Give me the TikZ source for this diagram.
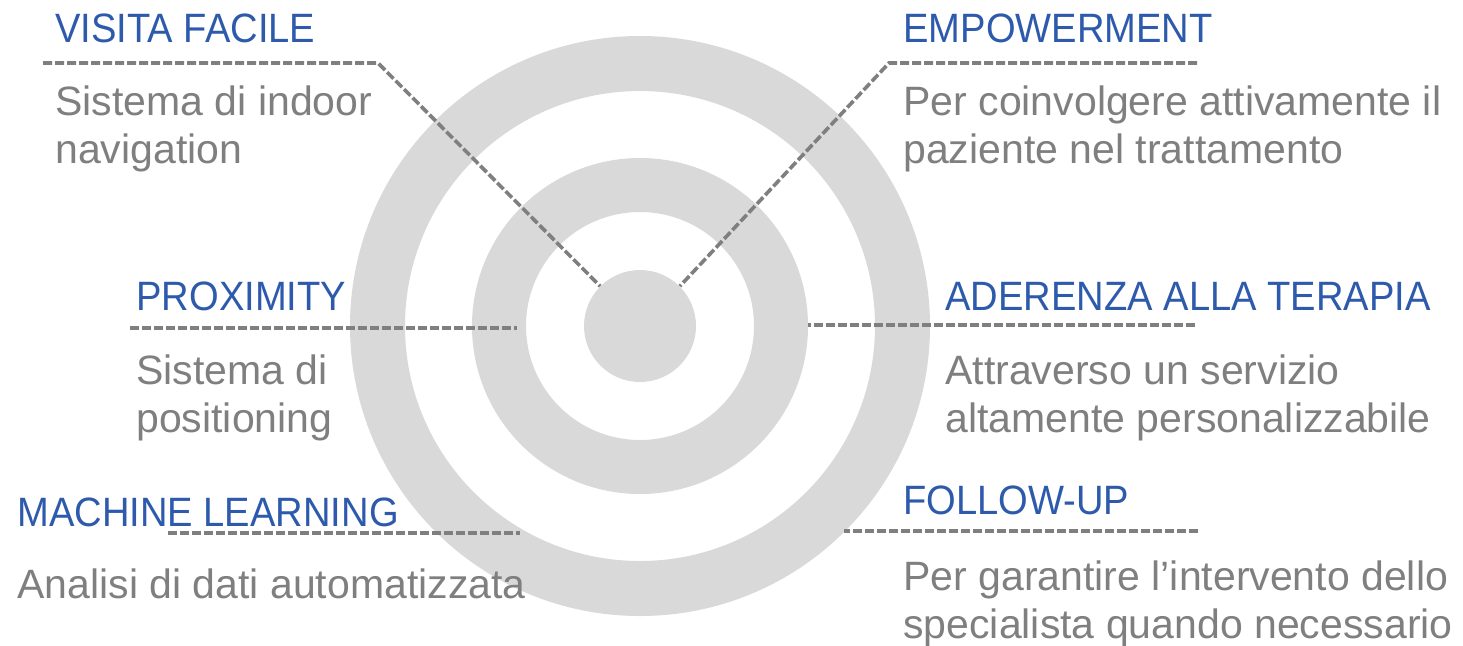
\documentclass[tikz,border=0pt]{standalone}
\usepackage{fontspec}
\setmainfont{Liberation Sans}
\newfontfamily\headfont[FakeStretch=0.93]{Liberation Sans}

\definecolor{ringgray}{HTML}{D9D9D9}
\definecolor{titleblue}{HTML}{2E5AAC}
\definecolor{textgray}{HTML}{7F7F7F}

\tikzset{
    title/.style={anchor=base west, inner sep=0pt, text=titleblue, font=\headfont\fontsize{20.5}{24}\selectfont},
    body/.style={anchor=base west, inner sep=0pt, text=textgray, align=left, font=\fontsize{20.5}{24}\selectfont},
    leader/.style={textgray, line width=1.8pt, dash pattern=on 4.5pt off 1.5pt},
}

\begin{document}
\begin{tikzpicture}[x=0.5pt, y=-0.5pt]
    \useasboundingbox (0,0) rectangle (1463,645);

    % target
    \fill[ringgray, even odd rule] (640,326) circle (290) circle (235);
    \fill[ringgray, even odd rule] (640,326) circle (168) circle (114);
    \node[circle, fill=ringgray, minimum size=56pt, inner sep=0pt] (core) at (640,326) {};

    % labels (body nodes sit on the baseline of their last line)
    \node[title] (visita) at (55,42) {VISITA FACILE};
    \node[body] (visitatxt) at (55,163) {Sistema di indoor\\navigation};
    \node[title] (empow) at (903,42) {EMPOWERMENT};
    \node[body] (empowtxt) at (903,163) {Per coinvolgere attivamente il\\paziente nel trattamento};
    \node[title] (prox) at (136,310) {PROXIMITY};
    \node[body] (proxtxt) at (136,432) {Sistema di\\positioning};
    \node[title] (aderenza) at (945,310) {ADERENZA ALLA TERAPIA};
    \node[body] (aderenzatxt) at (945,432) {Attraverso un servizio\\altamente personalizzabile};
    \node[title] (ml) at (17,526) {MACHINE LEARNING};
    \node[body] (mltxt) at (17,598) {Analisi di dati automatizzata};
    \node[title] (follow) at (903,514) {FOLLOW-UP};
    \node[body] (followtxt) at (903,638) {Per garantire l’intervento dello\\specialista quando necessario};

    % leader lines
    \coordinate (visitaA) at (43,63);
    \coordinate (visitaB) at (378,63);
    \coordinate (empowA) at (1197,63);
    \coordinate (empowB) at (889,63);
    \coordinate (proxA) at (130,328);
    \coordinate (proxB) at (517,328);
    \coordinate (aderenzaA) at (1195,325);
    \coordinate (aderenzaB) at (808,325);
    \coordinate (mlA) at (168,533);
    \coordinate (mlB) at (520,533);
    \coordinate (followA) at (1198,531);
    \coordinate (followB) at (844,531);

    \draw[leader] (visitaA) -- (visitaB) -- (core.135);
    \draw[leader] (empowA) -- (empowB) -- (core.45);
    \draw[leader] (proxA) -- (proxB);
    \draw[leader] (aderenzaA) -- (aderenzaB);
    \draw[leader] (mlA) -- (mlB);
    \draw[leader] (followA) -- (followB);
\end{tikzpicture}
\end{document}
